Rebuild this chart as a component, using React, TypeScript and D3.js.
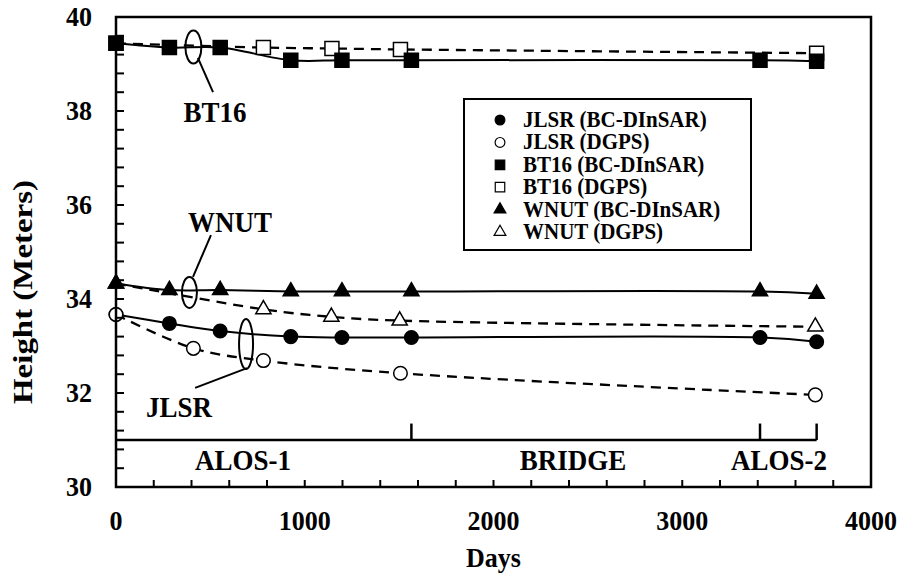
import React from "react";
import * as d3 from "d3";

// BC-DInSAR and DGPS heights (m) by days since first acquisition
const bcDays = [0, 283, 552, 926, 1197, 1565, 3412, 3712];
const jlsrBc = [33.67, 33.48, 33.32, 33.2, 33.18, 33.18, 33.18, 33.09];
const bt16Bc = [39.44, 39.35, 39.35, 39.08, 39.08, 39.08, 39.08, 39.06];
const wnutBc = [34.33, 34.19, 34.19, 34.16, 34.16, 34.16, 34.16, 34.11];

const jlsrGpsDays = [0, 410, 781, 1507, 3705];
const jlsrGps = [33.67, 32.95, 32.69, 32.42, 31.96];
const bt16GpsDays = [0, 781, 1144, 1507, 3712];
const bt16Gps = [39.44, 39.35, 39.33, 39.31, 39.23];
const wnutGpsDays = [0, 781, 1141, 1503, 3705];
const wnutGps = [34.33, 33.78, 33.62, 33.54, 33.41];

const xTicks = [0, 1000, 2000, 3000, 4000];
const yTicks = [30, 32, 34, 36, 38, 40];

// satellite periods along the bottom band
const periodMarks = [1565, 3412, 3712];
const periodLabels = [
  { text: "ALOS-1", day: 673 },
  { text: "BRIDGE", day: 2421 },
  { text: "ALOS-2", day: 3513 },
];

const W = 902;
const H = 574;
const FONT = "'Liberation Serif', 'Times New Roman', serif";

const x = d3.scaleLinear().domain([0, 4000]).range([116, 871]);
const y = d3.scaleLinear().domain([30, 40]).range([487, 17]);

type Series = {
  name: string;
  days: number[];
  vals: number[];
  shape: "circle" | "square" | "triangle";
  filled: boolean;
};

// draw order: filled BT16/WNUT over their DGPS, open JLSR over its BC
const series: Series[] = [
  { name: "WNUT (DGPS)", days: wnutGpsDays, vals: wnutGps, shape: "triangle", filled: false },
  { name: "WNUT (BC-DInSAR)", days: bcDays, vals: wnutBc, shape: "triangle", filled: true },
  { name: "BT16 (DGPS)", days: bt16GpsDays, vals: bt16Gps, shape: "square", filled: false },
  { name: "BT16 (BC-DInSAR)", days: bcDays, vals: bt16Bc, shape: "square", filled: true },
  { name: "JLSR (BC-DInSAR)", days: bcDays, vals: jlsrBc, shape: "circle", filled: true },
  { name: "JLSR (DGPS)", days: jlsrGpsDays, vals: jlsrGps, shape: "circle", filled: false },
];

const legendOrder = [
  "JLSR (BC-DInSAR)",
  "JLSR (DGPS)",
  "BT16 (BC-DInSAR)",
  "BT16 (DGPS)",
  "WNUT (BC-DInSAR)",
  "WNUT (DGPS)",
];

const symbolPath = (shape: string, big: boolean) => {
  const t = shape === "circle" ? d3.symbolCircle : shape === "square" ? d3.symbolSquare : d3.symbolTriangle;
  const size = shape === "circle" ? (big ? 145 : 75) : shape === "square" ? (big ? 196 : 90) : big ? 100 : 60;
  return d3.symbol().type(t).size(size)() as string;
};

// station annotations (ellipse + leader + name), in data units
const stationNotes = [
  { label: "BT16", ex: 410, ey: 39.36, rx: 8, ry: 16.5, l1: [434, 39.13], l2: [514, 38.4], tx: 525, ty: 37.77 },
  { label: "WNUT", ex: 389, ey: 34.14, rx: 7.5, ry: 15.5, l1: [408, 34.47], l2: [503, 35.36], tx: 604, ty: 35.43 },
  { label: "JLSR", ex: 689, ey: 33.04, rx: 7, ry: 25, l1: [694, 32.53], l2: [419, 32.11], tx: 334, ty: 31.49 },
];

// text with an optional vertical stretch about its baseline
const T = ({ x: tx, y: ty, size, anchor = "middle", sy = 1, children }: any) => (
  <text transform={`translate(${tx},${ty}) scale(1,${sy})`} textAnchor={anchor} fontSize={size}>
    {children}
  </text>
);

export default function App() {
  const line = d3
    .line<[number, number]>()
    .x((d) => x(d[0]))
    .y((d) => y(d[1]))
    .curve(d3.curveCatmullRom.alpha(0.5));

  const minorY = d3.range(30, 40.001, 0.4);
  const minorX = d3.range(0, 4001, 200);

  return (
    <svg width={W} height={H} style={{ position: "fixed", left: 0, top: 0, background: "#fff" }} fontFamily={FONT} fontWeight="bold">
      <rect x={0} y={0} width={W} height={H} fill="#fff" />

      {/* curves */}
      {series.map((s) => (
        <path
          key={"l" + s.name}
          d={line(s.days.map((d, i) => [d, s.vals[i]] as [number, number])) as string}
          fill="none"
          stroke="#000"
          strokeWidth={s.filled ? 2 : 2.3}
          strokeDasharray={s.filled ? undefined : "10,7"}
        />
      ))}

      {/* markers */}
      {series.map((s) => (
        <g key={"m" + s.name}>
          {s.days.map((d, i) => (
            <path
              key={i}
              transform={`translate(${x(d)},${y(s.vals[i])})`}
              d={symbolPath(s.shape, true)}
              fill={s.filled ? "#000" : "#fff"}
              stroke="#000"
              strokeWidth={1.5}
            />
          ))}
        </g>
      ))}

      {/* plot frame */}
      <rect x={x(0)} y={y(40)} width={x(4000) - x(0)} height={y(30) - y(40)} fill="none" stroke="#000" strokeWidth={2.5} />

      {/* ticks, pointing inward */}
      {minorY.map((v, i) => (
        <line key={"yt" + i} x1={x(0)} x2={x(0) + 8} y1={y(v)} y2={y(v)} stroke="#000" strokeWidth={2} />
      ))}
      {minorX.map((v, i) => (
        <line key={"xt" + i} x1={x(v)} x2={x(v)} y1={y(30)} y2={y(30) - 7} stroke="#000" strokeWidth={2} />
      ))}

      {yTicks.map((v) => (
        <T key={"yl" + v} x={92} y={y(v) + 9} size={26} anchor="end" sy={1.04}>
          {v}
        </T>
      ))}
      {xTicks.map((v) => (
        <T key={"xl" + v} x={x(v)} y={530} size={26} sy={1.08}>
          {v}
        </T>
      ))}

      <T x={x(2000)} y={567} size={26} sy={1.05}>
        Days
      </T>
      <text
        transform={`translate(32,${(y(30) + y(40)) / 2 + 40}) rotate(-90)`}
        textAnchor="middle"
        fontSize={27}
        textLength={224}
        lengthAdjust="spacingAndGlyphs"
      >
        Height (Meters)
      </text>

      {/* period band */}
      <line x1={x(0)} x2={x(periodMarks[periodMarks.length - 1])} y1={y(31)} y2={y(31)} stroke="#000" strokeWidth={2.5} />
      {periodMarks.map((d) => (
        <line key={"pm" + d} x1={x(d)} x2={x(d)} y1={y(31)} y2={y(31.35)} stroke="#000" strokeWidth={2.5} />
      ))}
      {periodLabels.map((p) => (
        <T key={p.text} x={x(p.day)} y={y(30.36)} size={27} sy={1.08}>
          {p.text}
        </T>
      ))}

      {/* station annotations */}
      {stationNotes.map((n) => (
        <g key={n.label}>
          <ellipse cx={x(n.ex)} cy={y(n.ey)} rx={n.rx} ry={n.ry} fill="none" stroke="#000" strokeWidth={2} />
          <line x1={x(n.l1[0])} y1={y(n.l1[1])} x2={x(n.l2[0])} y2={y(n.l2[1])} stroke="#000" strokeWidth={2} />
          <T x={x(n.tx)} y={y(n.ty)} size={27} sy={1.08}>
            {n.label}
          </T>
        </g>
      ))}

      {/* legend */}
      <g>
        <rect x={464} y={99} width={287} height={151} fill="#fff" stroke="#000" strokeWidth={2} />
        {legendOrder.map((name, i) => {
          const s = series.find((q) => q.name === name)!;
          const cy = 120 + i * 22.4;
          return (
            <g key={"lg" + name}>
              <path
                transform={`translate(500,${cy})`}
                d={symbolPath(s.shape, false)}
                fill={s.filled ? "#000" : "#fff"}
                stroke="#000"
                strokeWidth={1.2}
              />
              <T x={523} y={cy + 7} size={21} anchor="start" sy={1.05}>
                {name}
              </T>
            </g>
          );
        })}
      </g>
    </svg>
  );
}
